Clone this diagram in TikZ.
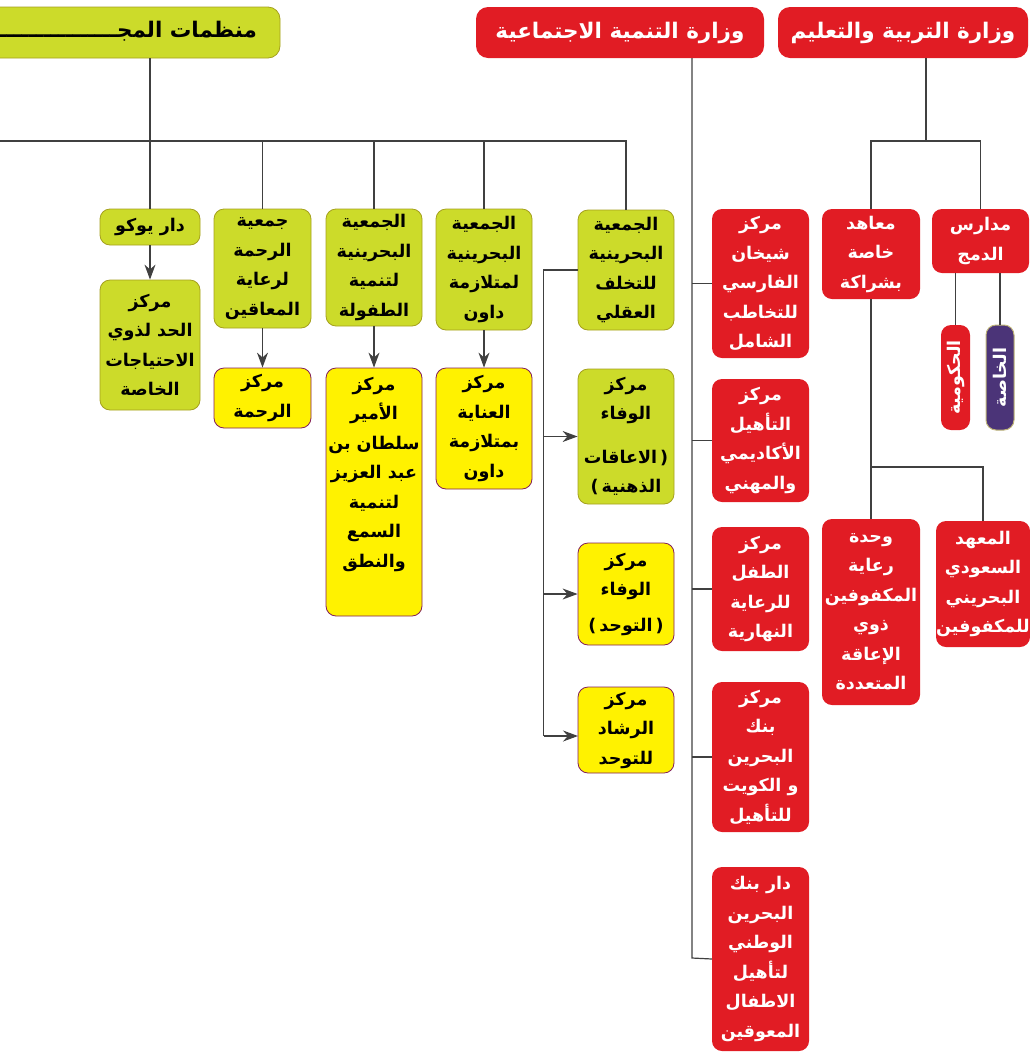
\documentclass[tikz,border=0pt]{standalone}
\usepackage{fontspec}
\newfontfamily\arabicfont[Script=Arabic]{DejaVu Sans}
\newfontfamily\latfont{DejaVu Sans}
\TeXXeTstate=1
\usetikzlibrary{arrows.meta}
\definecolor{redc}{RGB}{225,28,36}
\definecolor{greenc}{RGB}{204,219,42}
\definecolor{greenb}{RGB}{165,160,30}
\definecolor{yelc}{RGB}{255,242,0}
\definecolor{yelb}{RGB}{130,30,90}
\definecolor{purc}{RGB}{75,52,120}
\definecolor{purb}{RGB}{190,180,120}
\newcommand{\rl}[1]{\beginR #1\endR}
\newcommand{\lp}{{\latfont\bfseries(}}
\newcommand{\rp}{{\latfont\bfseries)}}
\begin{document}
\begin{tikzpicture}[x=1pt,y=-1pt,
 box/.style={rounded corners=10pt, inner sep=0pt, align=center, font=\arabicfont\bfseries\fontsize{17.5}{29.5}\selectfont},
 redbox/.style={box, fill=redc, text=white},
 greenbox/.style={box, fill=greenc, draw=greenb, line width=0.8pt, text=black},
 yelbox/.style={box, fill=yelc, draw=yelb, line width=0.8pt, text=black},
 purbox/.style={box, fill=purc, draw=purb, line width=1pt, text=white},
 head/.style={rounded corners=12pt, inner sep=0pt, font=\arabicfont\bfseries\fontsize{21.5}{24}\selectfont},
 conn/.style={draw=black!75, line width=1.2pt},
 arr/.style={conn, -{Stealth[length=15pt,width=11pt]}},
]
\useasboundingbox (0,0) rectangle (1030,1053);
\clip (0,0) rectangle (1030,1053);

% headers
\node[redbox, head, minimum width=250pt, minimum height=51pt] (edu) at (903,32.5) {\rl{وزارة التربية والتعليم}};
\node[redbox, head, minimum width=288pt, minimum height=51pt] (soc) at (620,32.5) {\rl{وزارة التنمية الاجتماعية}};
\node[greenbox, head, minimum width=300pt, minimum height=51pt] (mun) at (130,32.5) {};
\node[anchor=east, inner sep=0pt, font=\arabicfont\bfseries\fontsize{21.5}{24}\selectfont] (muntext) at (257,31) {\rl{منظمات المجـــــــــــــــــــــــــــــــــــــــــــــــ}};

% social development column (red)
\node[redbox, minimum width=97pt, minimum height=149pt] (shikhan) at (760.5,283.5) {\rl{مركز}\\\rl{شيخان}\\\rl{الفارسي}\\\rl{للتخاطب}\\\rl{الشامل}};
\node[redbox, minimum width=97pt, minimum height=123pt] (taheel) at (760.5,440.5) {\rl{مركز}\\\rl{التأهيل}\\\rl{الأكاديمي}\\\rl{والمهني}};
\node[redbox, minimum width=97pt, minimum height=124pt] (tifl) at (760.5,589) {\rl{مركز}\\\rl{الطفل}\\\rl{للرعاية}\\\rl{النهارية}};
\node[redbox, minimum width=97pt, minimum height=150pt] (bank) at (760.5,757) {\rl{مركز}\\\rl{بنك}\\\rl{البحرين}\\\rl{و الكويت}\\\rl{للتأهيل}};
\node[redbox, minimum width=97pt, minimum height=184pt] (darbank) at (760.5,959) {\rl{دار بنك}\\\rl{البحرين}\\\rl{الوطني}\\\rl{لتأهيل}\\\rl{الاطفال}\\\rl{المعوقين}};

% education column
\node[redbox, minimum width=97pt, minimum height=64pt] (dumj) at (980.5,241) {\rl{مدارس}\\\rl{الدمج}};
\node[redbox, minimum width=98pt, minimum height=90pt] (maahid) at (871,254) {\rl{معاهد}\\\rl{خاصة}\\\rl{بشراكة}};
\node[redbox, rotate=90, minimum width=105pt, minimum height=29pt] (huk) at (955.5,377.5) {\rl{الحكومية}};
\node[purbox, rotate=90, minimum width=105pt, minimum height=28pt] (khassa) at (1000,377.5) {\rl{الخاصة}};
\node[redbox, minimum width=98pt, minimum height=186pt] (wahda) at (871,612) {\rl{وحدة}\\\rl{رعاية}\\\rl{المكفوفين}\\\rl{ذوي}\\\rl{الإعاقة}\\\rl{المتعددة}};
\node[redbox, minimum width=94pt, minimum height=126pt] (mahad) at (983,584) {\rl{المعهد}\\\rl{السعودي}\\\rl{البحريني}\\\rl{للمكفوفين}};

% civil society
\node[greenbox, minimum width=100pt, minimum height=36pt] (yoko) at (150,227) {\rl{دار يوكو}};
\node[greenbox, minimum width=100pt, minimum height=130pt] (hadd) at (150,345) {\rl{مركز}\\\rl{الحد لذوي}\\\rl{الاحتياجات}\\\rl{الخاصة}};
\node[greenbox, minimum width=97pt, minimum height=119pt] (rahmaA) at (262.5,268.5) {\rl{جمعية}\\\rl{الرحمة}\\\rl{لرعاية}\\\rl{المعاقين}};
\node[yelbox, minimum width=97pt, minimum height=60pt] (rahmaC) at (262.5,398) {\rl{مركز}\\\rl{الرحمة}};
\node[greenbox, minimum width=96pt, minimum height=117pt] (tufula) at (374,267.5) {\rl{الجمعية}\\\rl{البحرينية}\\\rl{لتنمية}\\\rl{الطفولة}};
\node[yelbox, minimum width=96pt, minimum height=248pt] (amir) at (374,492) {\rl{مركز}\\\rl{الأمير}\\\rl{سلطان بن}\\\rl{عبد العزيز}\\\rl{لتنمية}\\\rl{السمع}\\\rl{والنطق}\\\rule{0pt}{35pt}};
\node[greenbox, minimum width=96pt, minimum height=121pt] (down) at (484,269.5) {\rl{الجمعية}\\\rl{البحرينية}\\\rl{لمتلازمة}\\\rl{داون}};
\node[yelbox, minimum width=96pt, minimum height=121pt] (inaya) at (484,428.5) {\rl{مركز}\\\rl{العناية}\\\rl{بمتلازمة}\\\rl{داون}};
\node[greenbox, minimum width=96pt, minimum height=120pt] (takhaluf) at (626,270) {\rl{الجمعية}\\\rl{البحرينية}\\\rl{للتخلف}\\\rl{العقلي}};
\node[greenbox, minimum width=96pt, minimum height=135pt] (wafaa1) at (626,436.5) {\rl{مركز}\\\rl{الوفاء}\\[14pt]\rl{الاعاقات}\,\rp\\\lp\,\rl{الذهنية}};
\node[yelbox, minimum width=96pt, minimum height=102pt] (wafaa2) at (626,594) {\rl{مركز}\\\rl{الوفاء}\\[6pt]\lp\,\rl{التوحد}\,\rp};
\node[yelbox, minimum width=96pt, minimum height=86pt] (rashad) at (626,730) {\rl{مركز}\\\rl{الرشاد}\\\rl{للتوحد}};

% connectors: social development
\coordinate (sv) at (692,958);
\draw[conn] (soc.south -| sv) -- (sv) -- (darbank.west);
\foreach \n in {shikhan,taheel,tifl,bank} \draw[conn] (\n.west) -- (\n.west -| sv);

% connectors: education
\coordinate (ej) at (926,141);
\draw[conn] (edu.south -| ej) -- (ej);
\draw[conn] (maahid.north) |- (ej) -| (dumj.north);
\draw[conn] (dumj.south -| huk.east) -- (huk.east);
\draw[conn] (dumj.south -| khassa.east) -- (khassa.east);
\coordinate (mj) at (871,467);
\draw[conn] (maahid.south) -- (wahda.north);
\draw[conn] (mj) -| (mahad.north);

% connectors: civil society
\coordinate (hl) at (0,141);
\draw[conn] (hl) -- (hl -| takhaluf.north) -- (takhaluf.north);
\draw[conn] (mun.south -| yoko.north) -- (yoko.north);
\foreach \n in {rahmaA,tufula,down} \draw[conn] (\n.north) -- (\n.north |- hl);
\draw[arr] (yoko.south) -- (hadd.north);
\draw[arr] (rahmaA.south) -- (rahmaC.north);
\draw[arr] (tufula.south) -- (amir.north);
\draw[arr] (down.south) -- (inaya.north);
\draw[conn] (takhaluf.west) -- ++(-34,0) coordinate (bk) -- (bk |- 0,736);
\coordinate (rj) at (578,736);
\draw[arr] (bk |- rj) -- (rj);
\draw[arr] (bk |- wafaa1.west) -- (wafaa1.west);
\draw[arr] (bk |- wafaa2.west) -- (wafaa2.west);
\end{tikzpicture}
\end{document}
